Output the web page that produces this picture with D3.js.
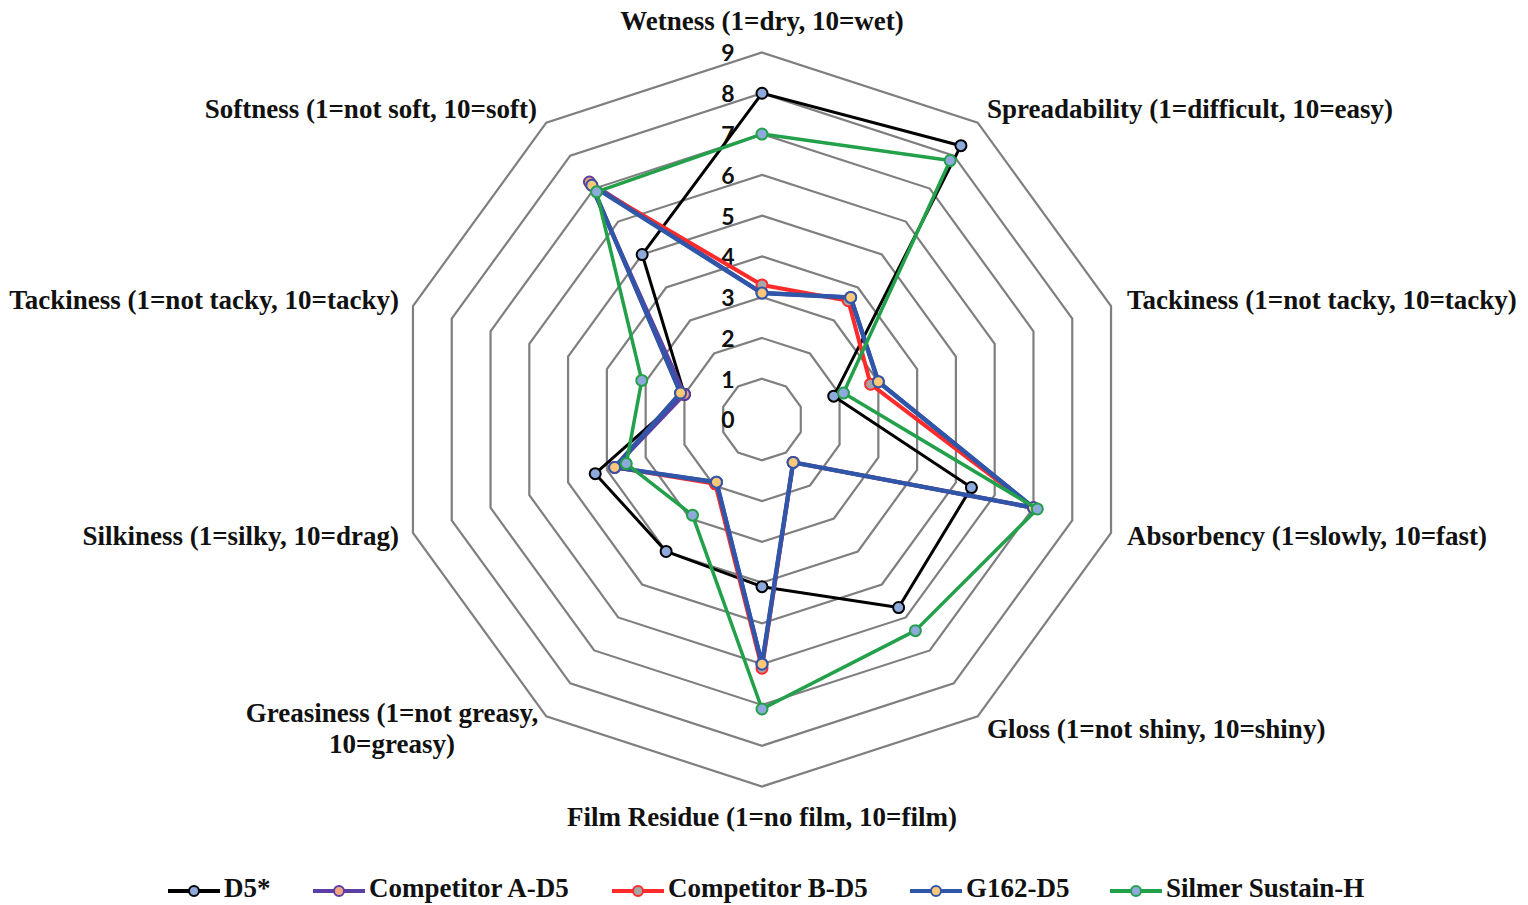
<!DOCTYPE html>
<html>
<head>
<meta charset="utf-8">
<script src="https://cdn.jsdelivr.net/npm/d3@7/dist/d3.min.js"></script>
<style>
  html, body { margin: 0; padding: 0; background: #fff; }
  svg { display: block; }
</style>
</head>
<body>
<svg id="chart" width="1528" height="905"></svg>
<script>
const categories = [
  "Wetness (1=dry, 10=wet)",
  "Spreadability (1=difficult, 10=easy)",
  "Tackiness (1=not tacky, 10=tacky)",
  "Absorbency (1=slowly, 10=fast)",
  "Gloss (1=not shiny, 10=shiny)",
  "Film Residue (1=no film, 10=film)",
  "Greasiness (1=not greasy,\n10=greasy)",
  "Silkiness (1=silky, 10=drag)",
  "Tackiness (1=not tacky, 10=tacky)",
  "Softness (1=not soft, 10=soft)"
];
const seriesNames = ["D5*", "Competitor A-D5", "Competitor B-D5", "G162-D5", "Silmer Sustain-H"];
const d5 =          [8.0, 8.3, 1.85, 5.4, 5.7, 4.1, 4.0, 4.3, 2.0, 5.0];
const competitorA = [3.1, 3.7, 3.0, 7.0, 1.3, 6.0, 1.9, 3.8, 2.0, 7.2];
const competitorB = [3.3, 3.6, 2.8, 7.0, 1.3, 6.1, 1.95, 3.8, 2.1, 7.1];
const g162 =        [3.1, 3.7, 3.0, 7.0, 1.3, 6.0, 1.9, 3.8, 2.1, 7.1];
const silmer =      [7.0, 7.85, 2.1, 7.1, 6.4, 7.1, 2.9, 3.5, 3.1, 6.9];
const tickValues = [0, 1, 2, 3, 4, 5, 6, 7, 8, 9];

const seriesData = [d5, competitorA, competitorB, g162, silmer];
const styles = [
  { stroke: "#000000", fill: "#8EA9DB", width: 3 },
  { stroke: "#5B3FA6", fill: "#F4A582", width: 4 },
  { stroke: "#FF2A2A", fill: "#A6A6A6", width: 4 },
  { stroke: "#2F56A8", fill: "#FFC878", width: 4.5 },
  { stroke: "#23A04A", fill: "#8EA9DB", width: 3.5 }
];

const svg = d3.select("#chart");
const cx = 762, cy = 419.5;
const r = d3.scaleLinear().domain([0, 9]).range([0, 367]);
const n = categories.length;
const angle = d3.scaleLinear().domain([0, n]).range([0, 2 * Math.PI]);
const pt = (i, v) => [cx + r(v) * Math.sin(angle(i)), cy - r(v) * Math.cos(angle(i))];

// grid rings
const gridG = svg.append("g");
tickValues.filter(t => t > 0).forEach(t => {
  const pts = d3.range(n).map(i => pt(i, t));
  gridG.append("path")
    .attr("d", d3.line().curve(d3.curveLinearClosed)(pts))
    .attr("fill", "none")
    .attr("stroke", "#7F7F7F")
    .attr("stroke-width", 2.2);
});

// tick labels
const tickG = svg.append("g");
tickValues.forEach(t => {
  tickG.append("text")
    .attr("x", cx - 34)
    .attr("y", cy - r(t) + 3)
    .attr("text-anchor", "middle")
    .attr("dominant-baseline", "middle")
    .attr("font-family", "Lato, 'Liberation Sans', sans-serif")
    .attr("font-weight", "bold")
    .attr("font-size", 23)
    .attr("fill", "#111")
    .text(t);
});

// category labels
const labelPos = [
  { x: 762, y: 24, anchor: "middle" },
  { x: 987, y: 112, anchor: "start" },
  { x: 1127, y: 303, anchor: "start" },
  { x: 1127, y: 539, anchor: "start" },
  { x: 987, y: 732, anchor: "start" },
  { x: 762, y: 820, anchor: "middle" },
  { x: 392, y: 716, anchor: "middle" },
  { x: 399, y: 539, anchor: "end" },
  { x: 399, y: 303, anchor: "end" },
  { x: 537, y: 112, anchor: "end" }
];
const labG = svg.append("g");
categories.forEach((c, i) => {
  const p = labelPos[i];
  const lines = c.split("\n");
  const t = labG.append("text")
    .attr("x", p.x)
    .attr("y", p.y)
    .attr("text-anchor", p.anchor)
    .attr("dominant-baseline", "middle")
    .attr("font-family", "'Liberation Serif', 'Times New Roman', serif")
    .attr("font-weight", "bold")
    .attr("font-size", 27)
    .attr("fill", "#111");
  lines.forEach((l, k) => {
    t.append("tspan").attr("x", p.x).attr("dy", k === 0 ? 0 : 31).text(l);
  });
});

// series
const seriesG = svg.append("g");
seriesData.forEach((vals, s) => {
  const st = styles[s];
  const pts = vals.map((v, i) => pt(i, v));
  const g = seriesG.append("g");
  g.append("path")
    .attr("d", d3.line().curve(d3.curveLinearClosed)(pts))
    .attr("fill", "none")
    .attr("stroke", st.stroke)
    .attr("stroke-width", st.width)
    .attr("stroke-linejoin", "round");
  g.selectAll("circle").data(pts).join("circle")
    .attr("cx", d => d[0])
    .attr("cy", d => d[1])
    .attr("r", 5.5)
    .attr("fill", st.fill)
    .attr("stroke", st.stroke)
    .attr("stroke-width", 2);
});

// legend
const legendX = [168, 313, 612, 910, 1110];
const legendY = 891;
const legG = svg.append("g");
seriesNames.forEach((name, s) => {
  const st = styles[s];
  const x0 = legendX[s];
  legG.append("line")
    .attr("x1", x0).attr("x2", x0 + 52)
    .attr("y1", legendY).attr("y2", legendY)
    .attr("stroke", st.stroke).attr("stroke-width", 4);
  legG.append("circle")
    .attr("cx", x0 + 26).attr("cy", legendY).attr("r", 5)
    .attr("fill", st.fill).attr("stroke", st.stroke).attr("stroke-width", 2);
  legG.append("text")
    .attr("x", x0 + 56)
    .attr("y", legendY)
    .attr("dominant-baseline", "middle")
    .attr("font-family", "'Liberation Serif', 'Times New Roman', serif")
    .attr("font-weight", "bold")
    .attr("font-size", 27)
    .attr("fill", "#111")
    .text(name);
});
</script>
</body>
</html>
